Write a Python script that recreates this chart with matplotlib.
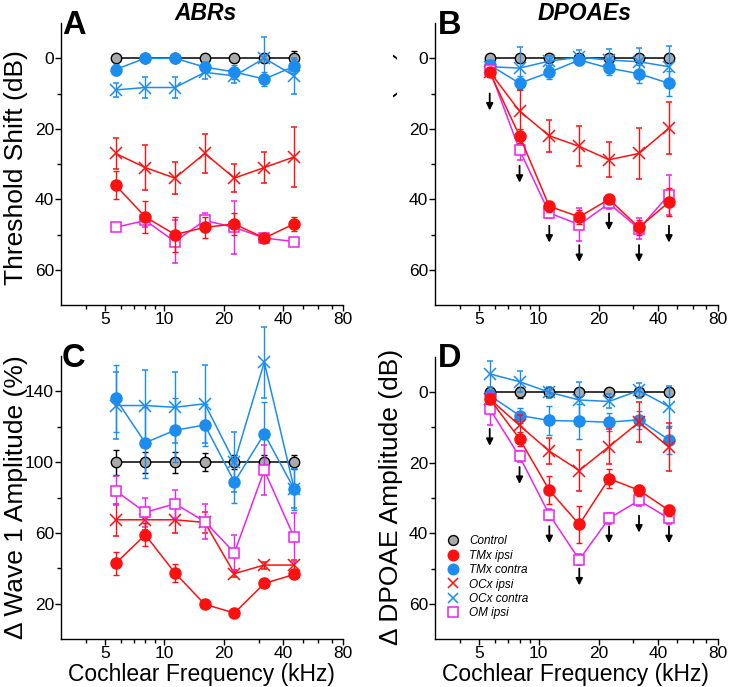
import matplotlib
matplotlib.use("Agg")
import matplotlib.pyplot as plt
from matplotlib import font_manager
from matplotlib.lines import Line2D
from matplotlib.ticker import FixedLocator, NullFormatter
from matplotlib.transforms import Bbox, TransformedBbox

# frequencies (kHz)
freqs = [5.66, 8.0, 11.3, 16.0, 22.6, 32.0, 45.3]

# A: ABR threshold shift (dB)
abr_control = [0, 0, 0, 0, 0, 0, 0]
abr_control_err = [1, 1, 1, 1, 1, 1, 2]
abr_tmx_ipsi = [36, 45, 50, 48, 47, 51, 47]
abr_tmx_ipsi_err = [4, 4.5, 5, 3, 3, 1, 2]
abr_tmx_contra = [3.2, 0, 0, 2.5, 3.9, 5.9, 2.3]
abr_tmx_contra_err = [1.5, 1, 1, 1.5, 2, 2, 2]
abr_ocx_ipsi = [27, 31, 34, 27, 34, 31, 28]
abr_ocx_ipsi_err = [4.5, 6.5, 4.5, 5.5, 4, 4.5, 8.5]
abr_ocx_contra = [9, 8.3, 8.3, 4, 5, 0, 5]
abr_ocx_contra_err = [2, 3, 3, 2, 2, 6, 5]
abr_om_ipsi = [48, 46, 52, 46, 48, 51, 52]
abr_om_ipsi_err = [1, 2, 6, 2, 7.5, 1, 1]

# B: DPOAE threshold shift (dB)
dp_control = [0, 0, 0, 0, 0, 0, 0]
dp_control_err = [1, 1, 1, 1, 1, 1, 1]
dp_tmx_ipsi = [4, 22, 42, 45, 40, 48, 40.8]
dp_tmx_ipsi_err = [1, 2, 1.5, 2, 1, 2, 4]
dp_tmx_contra = [1.9, 7.1, 4, 0.5, 2.8, 4.4, 7.1]
dp_tmx_contra_err = [1.5, 2, 2, 1.5, 2, 2.5, 3.5]
dp_ocx_ipsi = [3.8, 15, 22, 25, 28.8, 27, 19.8]
dp_ocx_ipsi_err = [1.5, 6, 4.5, 5.7, 5, 7.3, 7.3]
dp_ocx_contra = [2.4, 2.8, 0.8, -0.3, 0.5, 1, 2.4]
dp_ocx_contra_err = [1.5, 6, 1.5, 2, 3, 4, 6]
dp_om_ipsi = [3.3, 26, 43.9, 47.2, 41.2, 48.4, 38.7]
dp_om_ipsi_err = [1, 3, 1.5, 4.7, 1.5, 3, 5.7]
dp_arrows = [10, 30.5, 47.5, 53, 44, 53, 47.5]

# C: wave 1 amplitude change (%)
w1_control = [100, 100, 100, 100, 100, 100, 100]
w1_control_err = [7, 6, 6, 5, 4, 4, 4]
w1_tmx_ipsi = [42.7, 58.9, 37.4, 19.6, 14.7, 31.4, 36.5]
w1_tmx_ipsi_err = [6.6, 6.6, 5, 1, 1, 1, 2]
w1_tmx_contra = [136, 111, 118, 121, 88.8, 116, 84.8]
w1_tmx_contra_err = [19, 20, 18, 12, 12, 18, 12]
w1_ocx_ipsi = [67.4, 67.4, 67.4, 65.9, 37, 41.8, 41.8]
w1_ocx_ipsi_err = [9, 6, 7.5, 6, 2, 2, 3]
w1_ocx_contra = [132, 132, 131, 133, 100, 156.5, 85]
w1_ocx_contra_err = [19, 20, 20, 22, 17, 20, 11]
w1_om_ipsi = [83.9, 71.6, 76.5, 66.4, 48.8, 95.4, 57.5]
w1_om_ipsi_err = [8, 8, 8, 10, 10, 14, 14]

# D: DPOAE amplitude change (dB)
amp_control = [0, 0, 0, 0, 0, 0, 0]
amp_control_err = [1, 1.5, 1, 1, 1, 1, 1]
amp_tmx_ipsi = [1.9, 13.2, 27.8, 37.5, 24.5, 27.8, 33.5]
amp_tmx_ipsi_err = [1.5, 2, 4, 5.2, 2.8, 1.5, 1.5]
amp_tmx_contra = [0.9, 6.6, 8, 8.2, 8.5, 7.8, 13.5]
amp_tmx_contra_err = [1.5, 2, 4.2, 5, 2.5, 2.5, 4]
amp_ocx_ipsi = [1.9, 9.4, 16.7, 22.2, 15.4, 8.5, 15.6]
amp_ocx_ipsi_err = [1.5, 3, 3.7, 5.8, 5, 5.7, 6.8]
amp_ocx_contra = [-5.2, -3, 0, 2.2, 2.6, -0.5, 4.1]
amp_ocx_contra_err = [3.7, 3, 1.5, 5, 2, 2, 6]
amp_om_ipsi = [4.7, 18.2, 34.7, 47.5, 35.8, 30.7, 35.8]
amp_om_ipsi_err = [4.5, 1.5, 1.5, 1.5, 1.5, 1.5, 1.5]
amp_arrows = [10.4, 21.2, 38, 50, 38, 35, 38]

group_names = ["Control", "TMx ipsi", "TMx contra", "OCx ipsi", "OCx contra", "OM ipsi"]
x_ticks = [5, 10, 20, 40, 80]
x_minor = [4, 6, 7, 8, 9, 30, 50, 60, 70]

RED = "#ff1010"
BLUE = "#1b8cf0"
MAG = "#ee22ee"
GRAY = "#aaaaaa"

names = {f.name for f in font_manager.fontManager.ttflist}
BASE = "Liberation Sans" if "Liberation Sans" in names else "DejaVu Sans"
plt.rcParams["font.family"] = [BASE, "DejaVu Sans"]

STYLES = [
    dict(color="black", marker="o", mfc=GRAY, mec="black", ms=7.5, mew=1.0),  # control
    dict(color=RED, marker="o", mfc=RED, mec=RED, ms=8, mew=1.0),  # TMx ipsi
    dict(color=BLUE, marker="o", mfc=BLUE, mec=BLUE, ms=8, mew=1.0),  # TMx contra
    dict(color=RED, marker="x", mfc=RED, mec=RED, ms=8, mew=1.1),  # OCx ipsi
    dict(color=BLUE, marker="x", mfc=BLUE, mec=BLUE, ms=8, mew=1.1),  # OCx contra
    dict(color=MAG, marker="s", mfc="white", mec=MAG, ms=7.5, mew=1.1),  # OM ipsi
]
# draw order: control, TMx contra, OCx contra, OCx ipsi, OM ipsi, TMx ipsi
DRAW_ORDER = [0, 2, 4, 3, 5, 1]

W, H = 731, 687
fig = plt.figure(figsize=(W / 100, H / 100), dpi=100)


def px_axes(left, top, right, bottom):
    return fig.add_axes([left / W, 1 - bottom / H, (right - left) / W, (bottom - top) / H])


def style_axes(ax, ylim, yt_major, yt_minor, invert):
    ax.set_xscale("log")
    ax.set_xlim(3, 80)
    ax.xaxis.set_major_locator(FixedLocator(x_ticks))
    ax.xaxis.set_minor_locator(FixedLocator(x_minor))
    ax.xaxis.set_minor_formatter(NullFormatter())
    ax.set_xticklabels([str(t) for t in x_ticks])
    ax.set_ylim(*ylim)
    if invert:
        ax.invert_yaxis()
    ax.yaxis.set_major_locator(FixedLocator(yt_major))
    ax.yaxis.set_minor_locator(FixedLocator(yt_minor))
    ax.yaxis.set_minor_formatter(NullFormatter())
    ax.set_yticklabels([str(t) for t in yt_major])
    for s in ("top", "right"):
        ax.spines[s].set_visible(False)
    for s in ("left", "bottom"):
        ax.spines[s].set_linewidth(1.0)
    ax.tick_params(which="major", length=4, width=1, labelsize=12.5, pad=1)
    ax.tick_params(which="minor", length=3, width=1)
    ax.patch.set_visible(False)


def draw_series(ax, series, errs):
    for i in DRAW_ORDER:
        st = STYLES[i]
        ax.errorbar(freqs, series[i], yerr=errs[i], color=st["color"], lw=1.1,
                    marker=st["marker"], ms=st["ms"], mfc=st["mfc"], mec=st["mec"],
                    mew=st["mew"], elinewidth=1.0, capsize=2, capthick=1.0,
                    ecolor=st["color"], clip_on=False, zorder=3 + DRAW_ORDER.index(i))


def draw_arrows(ax, tops, length=4.8):
    for f, t in zip(freqs, tops):
        ax.annotate("", xy=(f, t + length), xytext=(f, t),
                    arrowprops=dict(arrowstyle="-|>", color="black", lw=1.3,
                                    mutation_scale=10, shrinkA=0, shrinkB=0),
                    zorder=10)


ax_a = px_axes(61, 23, 343, 305)
ax_b = px_axes(435, 23, 718, 305)
ax_c = px_axes(61, 356, 343, 639)
ax_d = px_axes(435, 357, 718, 639)

style_axes(ax_a, (-10, 70), [0, 20, 40, 60], [10, 30, 50], True)
style_axes(ax_b, (-10, 70), [0, 20, 40, 60], [10, 30, 50], True)
style_axes(ax_c, (0, 160), [20, 60, 100, 140], [40, 80, 120], False)
style_axes(ax_d, (-10, 70), [0, 20, 40, 60], [10, 30, 50], True)

draw_series(ax_a,
            [abr_control, abr_tmx_ipsi, abr_tmx_contra, abr_ocx_ipsi, abr_ocx_contra, abr_om_ipsi],
            [abr_control_err, abr_tmx_ipsi_err, abr_tmx_contra_err, abr_ocx_ipsi_err,
             abr_ocx_contra_err, abr_om_ipsi_err])
draw_series(ax_b,
            [dp_control, dp_tmx_ipsi, dp_tmx_contra, dp_ocx_ipsi, dp_ocx_contra, dp_om_ipsi],
            [dp_control_err, dp_tmx_ipsi_err, dp_tmx_contra_err, dp_ocx_ipsi_err,
             dp_ocx_contra_err, dp_om_ipsi_err])
draw_series(ax_c,
            [w1_control, w1_tmx_ipsi, w1_tmx_contra, w1_ocx_ipsi, w1_ocx_contra, w1_om_ipsi],
            [w1_control_err, w1_tmx_ipsi_err, w1_tmx_contra_err, w1_ocx_ipsi_err,
             w1_ocx_contra_err, w1_om_ipsi_err])
draw_series(ax_d,
            [amp_control, amp_tmx_ipsi, amp_tmx_contra, amp_ocx_ipsi, amp_ocx_contra, amp_om_ipsi],
            [amp_control_err, amp_tmx_ipsi_err, amp_tmx_contra_err, amp_ocx_ipsi_err,
             amp_ocx_contra_err, amp_om_ipsi_err])
draw_arrows(ax_b, dp_arrows)
draw_arrows(ax_d, amp_arrows)

# legend in D
handles = [Line2D([], [], ls="none", marker=st["marker"], ms=st["ms"] * 0.95, mfc=st["mfc"],
                  mec=st["mec"], mew=st["mew"]) for st in STYLES]
leg = ax_d.legend(handles, group_names, loc="lower left", bbox_to_anchor=(0.02, 0.045),
                  frameon=False, handlelength=0.9, handletextpad=0.9, labelspacing=0.2,
                  borderaxespad=0.2, prop=dict(family=BASE, style="italic", size=8.5))

# titles and panel letters
fig.text(206 / W, 1 - 14 / H, "ABRs", ha="center", va="center", fontsize=16.5,
         fontweight="bold", fontstyle="italic")
fig.text(585 / W, 1 - 14 / H, "DPOAEs", ha="center", va="center", fontsize=16.5,
         fontweight="bold", fontstyle="italic")
for lbl, x, y in [("A", 62, 34), ("B", 438, 34), ("C", 62, 367), ("D", 438, 367)]:
    fig.text(x / W, 1 - y / H, lbl, ha="left", va="baseline", fontsize=23.5, fontweight="bold")

# axis labels
XL = dict(ha="center", va="baseline", fontsize=16.5)
fig.text(201 / W, 1 - 681 / H, "Cochlear Frequency (kHz)", **XL)
fig.text(575 / W, 1 - 681 / H, "Cochlear Frequency (kHz)", **XL)
YL = dict(ha="center", va="center", rotation=90, fontsize=19)
fig.text(16 / W, 1 - 168 / H, "Threshold Shift (dB)", **YL)
fig.text(16 / W, 1 - 497 / H, "\u0394 Wave 1 Amplitude (%)", **YL)
fig.text(391 / W, 1 - 497 / H, "\u0394 DPOAE Amplitude (dB)", **YL)
t_b = fig.text(386 / W, 1 - 168 / H, "Threshold Shift (dB)", **YL)
t_b.set_clip_box(TransformedBbox(Bbox([[393 / W, 0.5], [1, 1]]), fig.transFigure))
t_b.set_clip_on(True)

fig.savefig("out.png", dpi=100)
